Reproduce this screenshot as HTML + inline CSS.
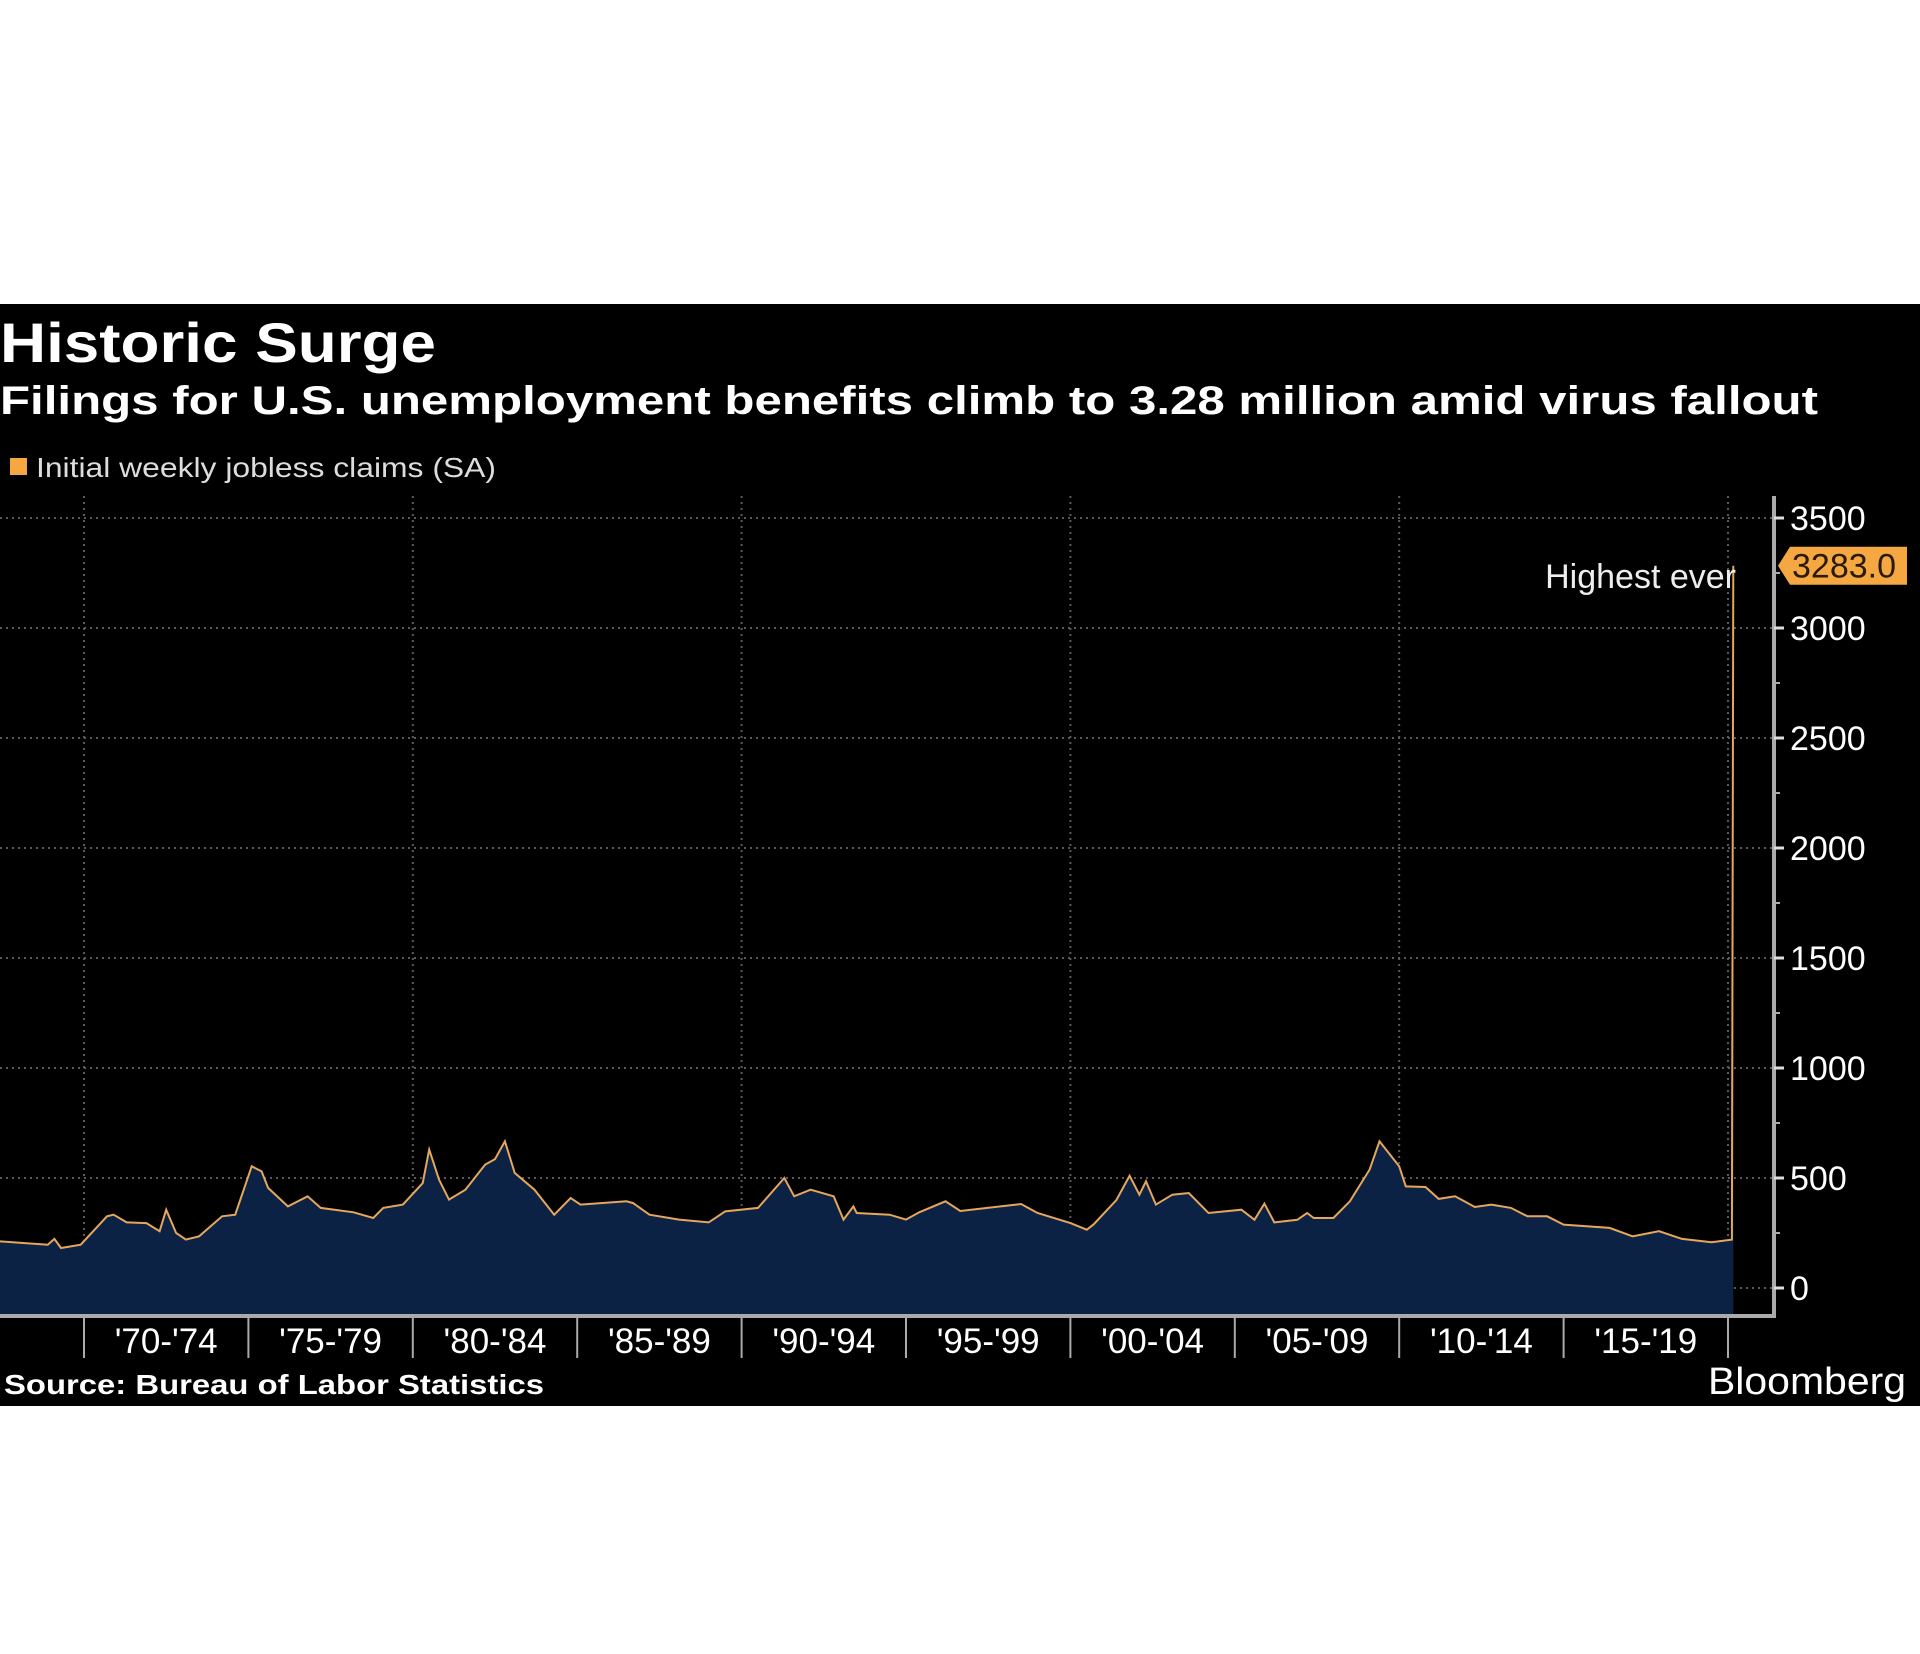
<!DOCTYPE html>
<html><head><meta charset="utf-8"><style>
html,body{margin:0;padding:0;background:#fff;width:1920px;height:1654px;overflow:hidden}
svg{display:block}
</style></head><body>
<svg id="chart" width="1920" height="1654" xmlns="http://www.w3.org/2000/svg">
<rect x="0" y="304" width="1920" height="1102" fill="#000"/>
<text x="0" y="362" fill="#fff" font-family="Liberation Sans, sans-serif" font-weight="bold" font-size="56" textLength="436" lengthAdjust="spacingAndGlyphs">Historic Surge</text>
<text x="0" y="414" fill="#fff" font-family="Liberation Sans, sans-serif" font-weight="bold" font-size="40" textLength="1818" lengthAdjust="spacingAndGlyphs">Filings for U.S. unemployment benefits climb to 3.28 million amid virus fallout</text>
<rect x="10" y="458" width="17" height="17" fill="#f5a742"/>
<text x="36" y="477" fill="#ddd" font-family="Liberation Sans, sans-serif" font-size="28" textLength="460" lengthAdjust="spacingAndGlyphs">Initial weekly jobless claims (SA)</text>
<g id="grid"></g>
<g id="plot"></g>
<g id="axes"></g>
<text x="4" y="1394" fill="#fff" font-family="Liberation Sans, sans-serif" font-weight="bold" font-size="28" textLength="540" lengthAdjust="spacingAndGlyphs">Source: Bureau of Labor Statistics</text>
<text x="1708" y="1394" fill="#fff" font-family="Liberation Sans, sans-serif" font-size="38" textLength="198" lengthAdjust="spacingAndGlyphs">Bloomberg</text>
</svg>
<script>
const years = [1967.45,1968.9,1969.1,1969.3,1969.9,1970.7,1970.9,1971.3,1971.9,1972.3,1972.5,1972.8,1973.1,1973.5,1974.2,1974.6,1975.1,1975.4,1975.6,1976.2,1976.8,1977.2,1978.2,1978.8,1979.1,1979.7,1980.3,1980.5,1980.8,1981.1,1981.6,1982.2,1982.5,1982.8,1983.1,1983.7,1984.3,1984.8,1985.1,1986.5,1986.7,1987.2,1988.1,1989,1989.5,1990.5,1991.3,1991.6,1992.1,1992.8,1993.1,1993.4,1993.5,1994.5,1995,1995.4,1996.2,1996.65,1998.5,1999,2000,2000.5,2000.7,2001.4,2001.8,2002.1,2002.3,2002.6,2003.1,2003.6,2004.2,2005.2,2005.6,2005.9,2006.2,2006.9,2007.2,2007.4,2008,2008.5,2009.1,2009.4,2010,2010.2,2010.8,2011.2,2011.7,2012.3,2012.8,2013.4,2013.9,2014.5,2015,2016.4,2017.1,2017.9,2018.6,2019.5,2020.12,2020.16];
const claims = [212,197,223,182,197,326,333,298,295,258,356,250,220,235,326,333,553,530,455,371,417,364,344,318,364,379,477,629,492,402,447,561,586,667,523,447,333,409,379,394,386,333,311,298,348,364,500,417,447,417,311,371,341,333,311,344,394,350,382,341,295,265,288,400,510,424,485,379,424,432,341,356,310,383,298,310,341,318,318,394,538,667,553,462,459,405,417,368,379,364,326,326,288,273,235,258,223,208,220,3283];
const yTicks = [0,500,1000,1500,2000,2500,3000,3500];
const periodLabels = ["'70-'74","'75-'79","'80-'84","'85-'89","'90-'94","'95-'99","'00-'04","'05-'09","'10-'14","'15-'19"];
const periodStarts = [1970,1975,1980,1985,1990,1995,2000,2005,2010,2015,2020];

const NS="http://www.w3.org/2000/svg";
const X0=84, X1=1728, Y0=1288, Y1=518;
const xs = y => X0 + (y-1970)*(X1-X0)/50;
const ys = v => Y0 - v*(Y0-Y1)/3500;
function mk(tag, attrs, parent){const e=document.createElementNS(NS,tag);for(const k in attrs)e.setAttribute(k,attrs[k]);parent.appendChild(e);return e;}
const grid=document.getElementById('grid'), plot=document.getElementById('plot'), axes=document.getElementById('axes');

yTicks.forEach(v=>{
  const g=mk('line',{x1:0,x2:1774,y1:ys(v),y2:ys(v),stroke:'#5a5a5a','stroke-width':2,'stroke-dasharray':'2 4'},grid);
  
  
});
[1970,1980,1990,2000,2010,2020].forEach(y=>{
  const g=mk('line',{x1:xs(y),x2:xs(y),y1:496,y2:1316,stroke:'#5a5a5a','stroke-width':2,'stroke-dasharray':'2 4'},grid);
  
  
});

let pts = years.map((y,i)=>xs(y).toFixed(1)+','+ys(claims[i]).toFixed(1));
const lastX = xs(years[years.length-1]);
const area=mk('path',{d:'M0,'+ys(claims[0]).toFixed(1)+' L'+pts.join(' L')+' L'+lastX.toFixed(1)+',1316 L0,1316 Z',fill:'#0c2244'},plot);


const line=mk('polyline',{points:'0,'+ys(claims[0]).toFixed(1)+' '+pts.join(' '),fill:'none',stroke:'#e6a75a','stroke-width':2},plot);



const ann=mk('text',{x:1736,y:588,'text-anchor':'end',fill:'#eee','font-family':'Liberation Sans Narrow, Liberation Sans, sans-serif','font-size':34},plot);
ann.textContent='Highest ever';



const ya=mk('line',{x1:1774,x2:1774,y1:496,y2:1316,stroke:'#aaa','stroke-width':4},axes);


const xa=mk('line',{x1:0,x2:1776,y1:1316,y2:1316,stroke:'#aaa','stroke-width':4},axes);


for(let v=250; v<3500; v+=500){
  const t=mk('line',{x1:1774,x2:1780,y1:ys(v),y2:ys(v),stroke:'#aaa','stroke-width':2},axes);
  
  
}
yTicks.forEach(v=>{
  const t=mk('line',{x1:1774,x2:1784,y1:ys(v),y2:ys(v),stroke:'#ddd','stroke-width':3},axes);
  
  
  const l=mk('text',{x:1790,y:ys(v)+12,fill:'#fff','font-family':'Liberation Sans Narrow, Liberation Sans, sans-serif','font-size':34},axes);
  l.textContent=v;
  
  
});
periodStarts.forEach(y=>{
  const t=mk('line',{x1:xs(y),x2:xs(y),y1:1316,y2:1358,stroke:'#aaa','stroke-width':2},axes);
  
  
});
periodLabels.forEach((s,i)=>{
  const l=mk('text',{x:(xs(periodStarts[i])+xs(periodStarts[i+1]))/2,y:1353,'text-anchor':'middle',fill:'#fff','font-family':'Liberation Sans Narrow, Liberation Sans, sans-serif','font-size':35},axes);
  l.textContent=s;
  
  
});
const lv=claims[claims.length-1], ly=ys(lv);
const tag=mk('path',{d:`M1778,${ly} L1790,${ly-19} L1907,${ly-19} L1907,${ly+19} L1790,${ly+19} Z`,fill:'#f5a742'},axes);


const tv=mk('text',{x:1792,y:ly+12,fill:'#2a1a00','font-family':'Liberation Sans Narrow, Liberation Sans, sans-serif','font-size':34},axes);
tv.textContent=lv.toFixed(1);


</script>
</body></html>
